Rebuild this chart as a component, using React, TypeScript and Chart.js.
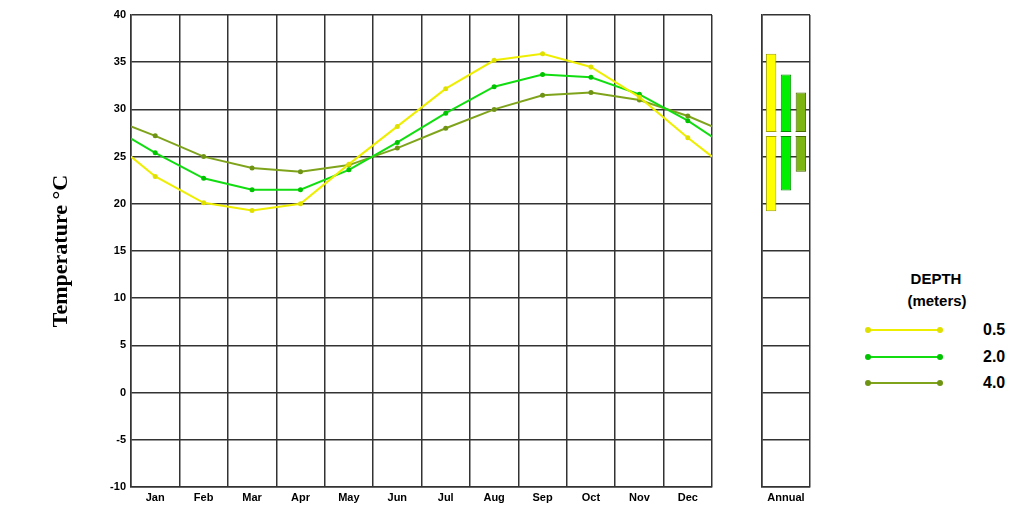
import React, { useEffect, useRef } from "react";
import { Chart, registerables } from "chart.js";

Chart.register(...registerables);

// ---- data ----
const MONTHS = ["Jan", "Feb", "Mar", "Apr", "May", "Jun", "Jul", "Aug", "Sep", "Oct", "Nov", "Dec"];
// x positions: chart edges (0 and 12) plus month centres
const X_POS = [0, 0.5, 1.5, 2.5, 3.5, 4.5, 5.5, 6.5, 7.5, 8.5, 9.5, 10.5, 11.5, 12];
const DEPTHS = ["0.5", "2.0", "4.0"];
const TEMP_05 = [25.0, 22.9, 20.1, 19.3, 20.0, 24.2, 28.2, 32.2, 35.2, 35.9, 34.5, 31.3, 27.0, 25.0];
const TEMP_20 = [26.9, 25.4, 22.7, 21.5, 21.5, 23.6, 26.5, 29.6, 32.4, 33.7, 33.4, 31.6, 28.8, 27.1];
const TEMP_40 = [28.2, 27.2, 25.0, 23.8, 23.4, 24.1, 25.9, 28.0, 30.0, 31.5, 31.8, 31.0, 29.3, 28.2];
const ANNUAL_LABELS = ["Annual"];
const ANNUAL_MIN = [19.2, 21.4, 23.4];
const ANNUAL_MAX = [35.9, 33.7, 31.8];
const ANNUAL_MEAN = [27.4, 27.4, 27.4];
const Y_MIN = -10;
const Y_MAX = 40;
const Y_STEP = 5;

// ---- styles ----
const LINE_COLORS = ["#eeee00", "#11dd11", "#7fa41c"];
const POINT_COLORS = ["#e0e000", "#00c400", "#6f9414"];
const BAR_FILL = ["#ffff00", "#00ee00", "#7db512"];
const BAR_BORDER = ["#a3a300", "#008a00", "#4a6a00"];
const GRID = "#333333";
const TICK_FONT = { family: "'Liberation Sans', Arial, sans-serif", size: 11, weight: "bold" as const };

const SERIES = [TEMP_05, TEMP_20, TEMP_40];

const meanGapPlugin = {
  id: "meanGap",
  afterDatasetsDraw(chart: any) {
    const ctx = chart.ctx;
    const y = chart.scales.y;
    chart.data.datasets.forEach((_ds: any, i: number) => {
      const meta = chart.getDatasetMeta(i);
      meta.data.forEach((bar: any) => {
        const { x, width } = bar.getProps(["x", "width"], true);
        const py = Math.round(y.getPixelForValue(ANNUAL_MEAN[i]));
        const left = x - width / 2;
        ctx.save();
        ctx.fillStyle = "#ffffff";
        ctx.fillRect(left - 0.5, py - 2, width + 1, 4);
        ctx.strokeStyle = BAR_BORDER[i];
        ctx.lineWidth = 1;
        ctx.beginPath();
        ctx.moveTo(left, py - 2.5);
        ctx.lineTo(left + width, py - 2.5);
        ctx.moveTo(left, py + 2.5);
        ctx.lineTo(left + width, py + 2.5);
        ctx.stroke();
        ctx.restore();
      });
    });
  },
};

export default function App() {
  const mainRef = useRef<HTMLCanvasElement>(null);
  const annRef = useRef<HTMLCanvasElement>(null);

  useEffect(() => {
    const main = new Chart(mainRef.current as HTMLCanvasElement, {
      type: "line",
      data: {
        datasets: SERIES.map((vals, i) => ({
          label: DEPTHS[i],
          data: vals.map((v, j) => ({ x: X_POS[j], y: v })),
          borderColor: LINE_COLORS[i],
          backgroundColor: POINT_COLORS[i],
          pointBackgroundColor: POINT_COLORS[i],
          pointBorderColor: POINT_COLORS[i],
          borderWidth: 2,
          pointRadius: vals.map((_v, j) => (j === 0 || j === vals.length - 1 ? 0 : 2.5)),
          pointBorderWidth: 0,
          tension: 0,
          fill: false,
        })),
      },
      options: {
        animation: false,
        responsive: false,
        events: [],
        layout: { padding: { left: 0, right: 8, top: 15, bottom: 0 } },
        plugins: { legend: { display: false }, tooltip: { enabled: false } },
        scales: {
          x: {
            type: "linear",
            min: 0,
            max: 12,
            ticks: {
              stepSize: 0.5,
              autoSkip: false,
              maxRotation: 0,
              padding: 4,
              color: "#000",
              font: TICK_FONT,
              callback: (v: any) => {
                const n = Number(v);
                return n % 1 === 0.5 ? MONTHS[Math.floor(n)] : "";
              },
            },
            grid: {
              drawTicks: false,
              lineWidth: 1.5,
              color: (ctx: any) =>
                ctx.tick && Number(ctx.tick.value) % 1 === 0 ? GRID : "rgba(0,0,0,0)",
            },
            border: { display: true, color: GRID, width: 1.5 },
            afterFit: (s: any) => {
              s.height = 23;
            },
          },
          y: {
            min: Y_MIN,
            max: Y_MAX,
            ticks: { stepSize: Y_STEP, padding: 5, color: "#000", font: TICK_FONT },
            grid: { drawTicks: false, color: GRID, lineWidth: 1.5 },
            border: { display: true, color: GRID, width: 1.5 },
            title: {
              display: true,
              text: "Temperature °C",
              color: "#000",
              font: { family: "'Liberation Serif', 'Times New Roman', serif", size: 22, weight: "bold" },
              padding: { top: 48, bottom: 0 },
            },
            afterFit: (s: any) => {
              s.width = 131;
            },
          },
        },
      },
    } as any);

    const ann = new Chart(annRef.current as HTMLCanvasElement, {
      type: "bar",
      data: {
        labels: ANNUAL_LABELS,
        datasets: DEPTHS.map((d, i) => ({
          label: d,
          data: [[ANNUAL_MIN[i], ANNUAL_MAX[i]]],
          backgroundColor: BAR_FILL[i],
          borderColor: BAR_BORDER[i],
          borderWidth: 1,
          borderSkipped: false,
          categoryPercentage: 0.93,
          barPercentage: 0.7,
        })),
      },
      options: {
        animation: false,
        responsive: false,
        events: [],
        layout: { padding: { left: 12, right: 10, top: 15, bottom: 0 } },
        plugins: { legend: { display: false }, tooltip: { enabled: false } },
        scales: {
          x: {
            ticks: { padding: 4, color: "#000", font: TICK_FONT },
            grid: { drawTicks: false, offset: true, color: GRID, lineWidth: 1.5 },
            border: { display: true, color: GRID, width: 1.5 },
            afterFit: (s: any) => {
              s.height = 23;
            },
          },
          y: {
            min: Y_MIN,
            max: Y_MAX,
            ticks: { stepSize: Y_STEP, display: false },
            grid: { drawTicks: false, color: GRID, lineWidth: 1.5 },
            border: { display: true, color: GRID, width: 1.5 },
            afterFit: (s: any) => {
              s.width = 0;
            },
          },
        },
      },
      plugins: [meanGapPlugin],
    } as any);

    return () => {
      main.destroy();
      ann.destroy();
    };
  }, []);

  const legendFont = "'Liberation Sans', Arial, sans-serif";
  const rowY = [330, 357, 383];

  return (
    <div
      style={{
        position: "absolute",
        left: 0,
        top: 0,
        width: 1017,
        height: 510,
        background: "#fff",
        overflow: "hidden",
        fontFamily: legendFont,
      }}
    >
      <canvas ref={mainRef} width={720} height={510} style={{ position: "absolute", left: 0, top: 0 }} />
      <canvas ref={annRef} width={70} height={510} style={{ position: "absolute", left: 750, top: 0 }} />
      <div
        style={{
          position: "absolute",
          left: 876,
          width: 120,
          top: 270,
          lineHeight: "18px",
          textAlign: "center",
          fontWeight: "bold",
          fontSize: 15,
          color: "#000",
        }}
      >
        DEPTH
      </div>
      <div
        style={{
          position: "absolute",
          left: 877,
          width: 120,
          top: 292,
          lineHeight: "18px",
          textAlign: "center",
          fontWeight: "bold",
          fontSize: 15,
          color: "#000",
        }}
      >
        (meters)
      </div>
      {DEPTHS.map((d, i) => (
        <React.Fragment key={d}>
          <div
            style={{
              position: "absolute",
              left: 868,
              top: rowY[i] - 1,
              width: 72,
              height: 2,
              background: LINE_COLORS[i],
            }}
          />
          <div
            style={{
              position: "absolute",
              left: 865,
              top: rowY[i] - 3,
              width: 6,
              height: 6,
              borderRadius: 3,
              background: POINT_COLORS[i],
            }}
          />
          <div
            style={{
              position: "absolute",
              left: 937,
              top: rowY[i] - 3,
              width: 6,
              height: 6,
              borderRadius: 3,
              background: POINT_COLORS[i],
            }}
          />
          <div
            style={{
              position: "absolute",
              left: 983,
              top: rowY[i] - 9,
              lineHeight: "18px",
              fontWeight: "bold",
              fontSize: 16,
              color: "#000",
            }}
          >
            {d}
          </div>
        </React.Fragment>
      ))}
    </div>
  );
}
